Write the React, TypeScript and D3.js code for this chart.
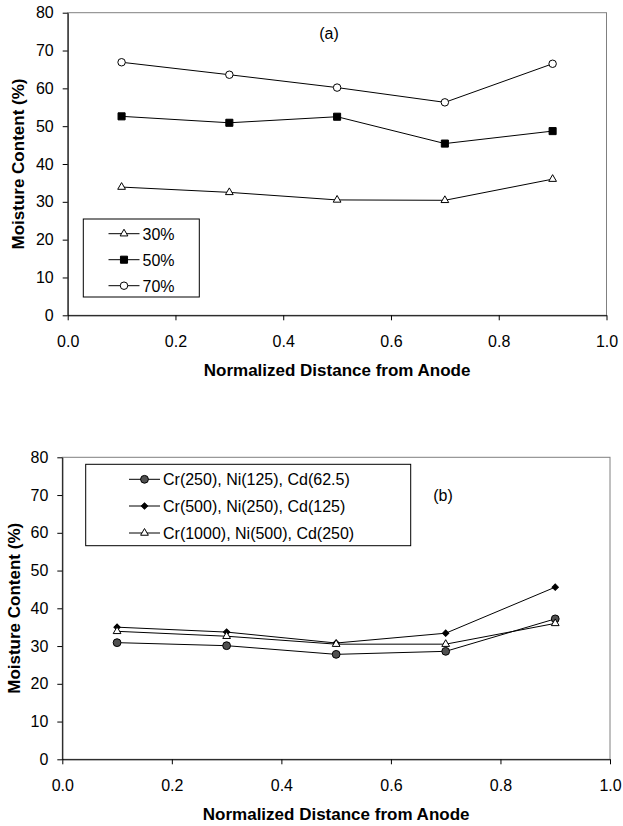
import React, { useEffect, useRef } from 'react'
import * as d3 from 'd3'

// values
const distance = [0.1, 0.3, 0.5, 0.7, 0.9]
const xTicks = [0, 0.2, 0.4, 0.6, 0.8, 1.0]
const yTicks = [0, 10, 20, 30, 40, 50, 60, 70, 80]

// panel (a): initial moisture content
const moistureLabels = ['30%', '50%', '70%']
const moisture30 = [33.9, 32.5, 30.5, 30.4, 36.0]
const moisture50 = [52.6, 50.9, 52.5, 45.4, 48.7]
const moisture70 = [66.9, 63.6, 60.2, 56.3, 66.5]

// panel (b): metal concentrations
const metalLabels = [
  'Cr(250), Ni(125), Cd(62.5)',
  'Cr(500), Ni(250), Cd(125)',
  'Cr(1000), Ni(500), Cd(250)',
]
const metalLow = [30.9, 30.1, 27.8, 28.6, 37.2]
const metalMid = [35.0, 33.7, 30.8, 33.4, 45.6]
const metalHigh = [33.9, 32.6, 30.5, 30.5, 36.0]

const FONT = 'Liberation Sans, Arial, sans-serif'

type Marker = { shape: d3.SymbolType; size: number; fill: string; rotate?: number }

const triangle: Marker = { shape: d3.symbolTriangle, size: 26, fill: '#fff' }
const square: Marker = { shape: d3.symbolSquare, size: 50, fill: '#000' }
const circle: Marker = { shape: d3.symbolCircle, size: 44, fill: '#fff' }
const grayCircle: Marker = { shape: d3.symbolCircle, size: 48, fill: '#505050' }
const diamond: Marker = { shape: d3.symbolSquare, size: 20, fill: '#000', rotate: 45 }

function drawMarker(g: any, m: Marker, x: number, y: number) {
  g.append('path')
    .attr('d', d3.symbol().type(m.shape).size(m.size)())
    .attr('transform', `translate(${x},${y})` + (m.rotate ? ` rotate(${m.rotate})` : ''))
    .attr('fill', m.fill)
    .attr('stroke', '#000')
    .attr('stroke-width', 1)
}

function drawPanel(svg: any, cfg: any) {
  const { left, right, top, bottom, series, tag, tagX, tagY, legend } = cfg
  const x = d3.scaleLinear().domain([0, 1]).range([left, right])
  const y = d3.scaleLinear().domain([0, 80]).range([bottom, top])

  // plot area frame
  svg.append('rect')
    .attr('x', left).attr('y', top)
    .attr('width', right - left).attr('height', bottom - top)
    .attr('fill', 'none').attr('stroke', '#808080').attr('stroke-width', 1)

  const xAxis = svg.append('g')
    .attr('transform', `translate(0,${bottom})`)
    .call(d3.axisBottom(x).tickValues(xTicks).tickFormat(d3.format('.1f')).tickSize(5).tickSizeOuter(0).tickPadding(15))
  const yAxis = svg.append('g')
    .attr('transform', `translate(${left},0)`)
    .call(d3.axisLeft(y).tickValues(yTicks).tickSize(5).tickSizeOuter(0).tickPadding(9))
  for (const ax of [xAxis, yAxis]) {
    ax.selectAll('text').attr('font-family', FONT).attr('font-size', 16).attr('fill', '#000')
    ax.selectAll('line, path').attr('stroke', '#000')
  }

  svg.append('text')
    .attr('x', (left + right) / 2).attr('y', bottom + 60.5)
    .attr('text-anchor', 'middle')
    .attr('font-family', FONT).attr('font-size', 17).attr('font-weight', 'bold')
    .text('Normalized Distance from Anode')
  svg.append('text')
    .attr('transform', `translate(${cfg.yTitleX},${(top + bottom) / 2}) rotate(-90)`)
    .attr('text-anchor', 'middle')
    .attr('font-family', FONT).attr('font-size', 17).attr('font-weight', 'bold')
    .text('Moisture Content (%)')

  svg.append('text')
    .attr('x', tagX).attr('y', tagY)
    .attr('text-anchor', 'middle')
    .attr('font-family', FONT).attr('font-size', 16)
    .text(tag)

  const line = d3.line<number>().x((d, i) => x(distance[i])).y(d => y(d))
  series.forEach((s: any) => {
    svg.append('path')
      .attr('d', line(s.values))
      .attr('fill', 'none').attr('stroke', '#000').attr('stroke-width', 1)
  })
  series.forEach((s: any) => {
    s.values.forEach((v: number, i: number) => drawMarker(svg, s.marker, x(distance[i]), y(v)))
  })

  // legend
  const lg = svg.append('g')
  lg.append('rect')
    .attr('x', legend.x).attr('y', legend.y)
    .attr('width', legend.w).attr('height', legend.h)
    .attr('fill', '#fff').attr('stroke', '#000').attr('stroke-width', 1)
  series.forEach((s: any, k: number) => {
    const ry = legend.rowY[k]
    lg.append('line')
      .attr('x1', legend.lineX).attr('x2', legend.lineX + 31)
      .attr('y1', ry).attr('y2', ry)
      .attr('stroke', '#000').attr('stroke-width', 1)
    drawMarker(lg, s.marker, legend.lineX + 15.5, ry)
    lg.append('text')
      .attr('x', legend.lineX + 34).attr('y', ry + 6)
      .attr('font-family', FONT).attr('font-size', 16)
      .text(s.label)
  })
}

export default function App() {
  const ref = useRef<SVGSVGElement>(null)

  useEffect(() => {
    const svg = d3.select(ref.current)
    svg.selectAll('*').remove()

    drawPanel(svg, {
      left: 67.7, right: 606.5, top: 12.7, bottom: 315.3,
      yTitleX: 23.5,
      tag: '(a)', tagX: 329, tagY: 39,
      series: [
        { label: moistureLabels[0], values: moisture30, marker: triangle },
        { label: moistureLabels[1], values: moisture50, marker: square },
        { label: moistureLabels[2], values: moisture70, marker: circle },
      ],
      legend: { x: 83.3, y: 219, w: 116, h: 78, lineX: 108.5, rowY: [233.7, 259.7, 285.7] },
    })

    drawPanel(svg, {
      left: 62.3, right: 610, top: 457.3, bottom: 759.3,
      yTitleX: 20,
      tag: '(b)', tagX: 443, tagY: 501,
      series: [
        { label: metalLabels[0], values: metalLow, marker: grayCircle },
        { label: metalLabels[1], values: metalMid, marker: diamond },
        { label: metalLabels[2], values: metalHigh, marker: triangle },
      ],
      legend: { x: 85.7, y: 464.3, w: 325, h: 81.4, lineX: 129, rowY: [479.3, 506, 533] },
    })
  }, [])

  return (
    <svg ref={ref} width={623} height={826}
      style={{ position: 'absolute', left: 0, top: 0, background: '#fff' }} />
  )
}
